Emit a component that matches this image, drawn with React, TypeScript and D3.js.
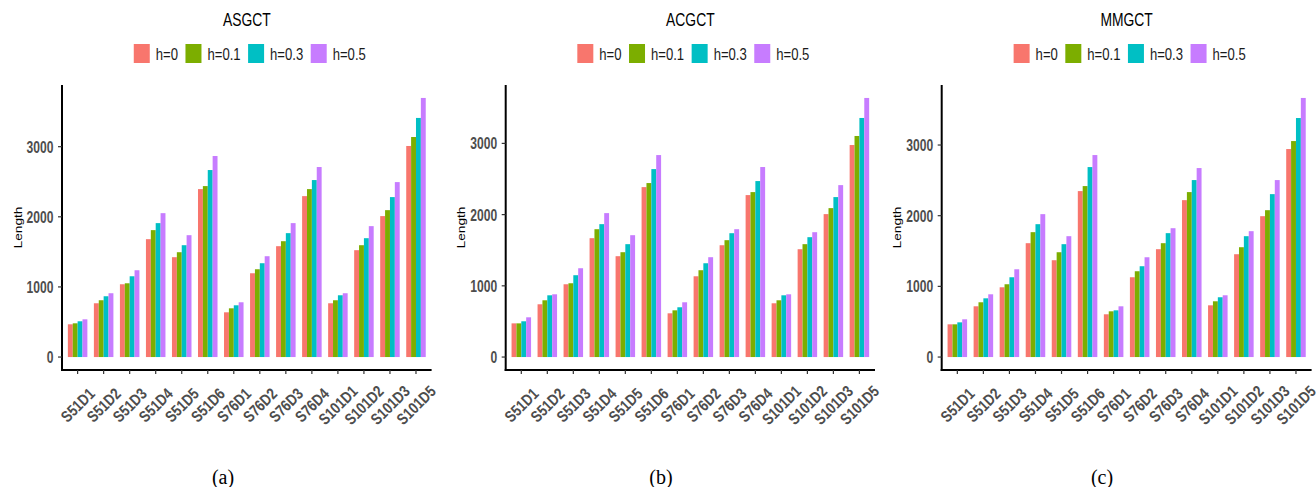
import React from "react";
import * as d3 from "d3";

const width = 1316;
const height = 487;
const SQ = 0.77; // the figure is squeezed horizontally
const FONT = "Liberation Sans, Arial, Helvetica, sans-serif";

const categories = [
  "S51D1", "S51D2", "S51D3", "S51D4", "S51D5", "S51D6",
  "S76D1", "S76D2", "S76D3", "S76D4",
  "S101D1", "S101D2", "S101D3", "S101D5",
];
const seriesNames = ["h=0", "h=0.1", "h=0.3", "h=0.5"];
const colors = ["#F8766D", "#7CAE00", "#00BFC4", "#C77CFF"];
const yTicks = [0, 1000, 2000, 3000];

const asgctH0 = [467, 767, 1038, 1681, 1424, 2395, 638, 1195, 1581, 2295, 767, 1524, 2010, 3010];
const asgctH01 = [481, 810, 1052, 1810, 1495, 2438, 695, 1252, 1652, 2395, 810, 1595, 2095, 3138];
const asgctH03 = [510, 867, 1152, 1910, 1595, 2667, 738, 1338, 1767, 2524, 881, 1695, 2281, 3410];
const asgctH05 = [538, 910, 1238, 2052, 1738, 2867, 781, 1438, 1910, 2710, 910, 1867, 2495, 3695];

const acgctH0 = [473, 741, 1022, 1669, 1416, 2386, 614, 1134, 1570, 2274, 755, 1514, 2007, 2977];
const acgctH01 = [473, 797, 1036, 1795, 1472, 2443, 656, 1219, 1641, 2316, 797, 1585, 2091, 3104];
const acgctH03 = [502, 867, 1149, 1866, 1585, 2639, 699, 1317, 1739, 2471, 867, 1683, 2246, 3357];
const acgctH05 = [558, 881, 1247, 2021, 1711, 2836, 769, 1402, 1795, 2668, 881, 1753, 2414, 3638];

const mmgctH0 = [463, 718, 987, 1611, 1370, 2348, 605, 1129, 1526, 2220, 732, 1455, 1993, 2943];
const mmgctH01 = [463, 775, 1030, 1767, 1483, 2419, 647, 1214, 1611, 2334, 789, 1554, 2078, 3056];
const mmgctH03 = [491, 831, 1129, 1880, 1597, 2688, 661, 1285, 1753, 2504, 846, 1710, 2305, 3382];
const mmgctH05 = [534, 888, 1242, 2022, 1710, 2858, 718, 1412, 1823, 2674, 874, 1781, 2504, 3666];

const panels = [
  { title: "ASGCT", caption: "(a)", series: [asgctH0, asgctH01, asgctH03, asgctH05], left: 62, right: 431.6, capX: 223 },
  { title: "ACGCT", caption: "(b)", series: [acgctH0, acgctH01, acgctH03, acgctH05], left: 505.7, right: 875, capX: 661 },
  { title: "MMGCT", caption: "(c)", series: [mmgctH0, mmgctH01, mmgctH03, mmgctH05], left: 941.7, right: 1311.6, capX: 1102 },
];

const plotTop = 85;
const plotBottom = 370;

let ctx: CanvasRenderingContext2D | null = null;
function textW(s: string, font: string) {
  if (!ctx) ctx = document.createElement("canvas").getContext("2d");
  if (!ctx) return s.length * 8;
  ctx.font = font;
  return ctx.measureText(s).width;
}

const sq = (x: number, y: number, rot = 0, s = SQ) =>
  `translate(${x},${y}) scale(${s},1)` + (rot ? ` rotate(${rot})` : "");

function Panel({ p }: { p: (typeof panels)[number] }) {
  const maxV = d3.max(p.series.flat()) as number;
  const y = d3
    .scaleLinear()
    .domain([-0.05 * maxV, 1.05 * maxV])
    .range([plotBottom, plotTop]);
  const x = d3.scalePoint<string>().domain(categories).range([p.left, p.right]).padding(0.6);
  const inner = d3
    .scaleBand<number>()
    .domain(d3.range(seriesNames.length))
    .range([-x.step() * 0.375, x.step() * 0.375]);

  const cx = (p.left + p.right) / 2;

  // legend layout
  const legFont = `17px ${FONT}`;
  const items = seriesNames.map((s) => ({ s, w: textW(s, legFont) * SQ }));
  const box = 16;
  const gapText = 6;
  const gapItem = 7.5;
  const total = d3.sum(items, (d) => box + gapText + d.w) + gapItem * (items.length - 1);
  let lx = cx + 3 - total / 2;
  const legend = items.map((d, i) => {
    const pos = lx;
    lx += box + gapText + d.w + gapItem;
    return { ...d, pos, i };
  });

  return (
    <g>
      <text transform={sq(cx, 26)} textAnchor="middle" fontSize={18} fontFamily={FONT} fill="#000">
        {p.title}
      </text>
      {legend.map((d) => (
        <g key={d.s}>
          <rect x={d.pos} y={44} width={box} height={19} fill={colors[d.i]} />
          <text transform={sq(d.pos + box + gapText, 60)} fontSize={17} fontFamily={FONT} fill="#1a1a1a">
            {d.s}
          </text>
        </g>
      ))}

      {p.series.map((vals, si) =>
        vals.map((v, ci) => (
          <rect
            key={`${si}-${ci}`}
            x={(x(categories[ci]) as number) + (inner(si) as number)}
            y={y(v)}
            width={inner.bandwidth()}
            height={y(0) - y(v)}
            fill={colors[si]}
          />
        ))
      )}

      {/* axes */}
      <line x1={p.left} x2={p.left} y1={plotTop} y2={plotBottom + 1} stroke="#000" strokeWidth={2} />
      <line x1={p.left - 1} x2={p.right} y1={plotBottom} y2={plotBottom} stroke="#000" strokeWidth={2} />
      {yTicks.map((t) => (
        <g key={t}>
          <line x1={p.left - 4} x2={p.left} y1={y(t)} y2={y(t)} stroke="#333" strokeWidth={1.2} />
          <text
            transform={sq(p.left - 8.5, y(t) + 6, 0, 0.72)}
            textAnchor="end"
            fontSize={16.8}
            fontWeight="bold"
            fontFamily={FONT}
            fill="#4D4D4D"
          >
            {t}
          </text>
        </g>
      ))}
      {categories.map((c) => {
        const tx = x(c) as number;
        return (
          <g key={c}>
            <line x1={tx} x2={tx} y1={plotBottom} y2={plotBottom + 4} stroke="#333" strokeWidth={1.2} />
            <text
              transform={`translate(${tx},${405}) rotate(-45) scale(0.82,1)`}
              textAnchor="middle"
              dy="0.36em"
              fontSize={16}
              fontWeight="bold"
              fontFamily={FONT}
              fill="#4D4D4D"
            >
              {c}
            </text>
          </g>
        );
      })}
      <text
        transform={`translate(${p.left - 44},${(plotTop + plotBottom) / 2}) scale(${SQ},1) rotate(-90)`}
        textAnchor="middle"
        dy="0.35em"
        fontSize={13.6}
        fontFamily={FONT}
        fill="#000"
      >
        Length
      </text>
      <text x={p.capX} y={484} textAnchor="middle" fontSize={20} fontFamily="Liberation Serif, Times New Roman, serif" fill="#000">
        {p.caption}
      </text>
    </g>
  );
}

export default function App() {
  return (
    <svg
      width={width}
      height={height}
      style={{ position: "absolute", left: 0, top: 0, background: "#fff" }}
    >
      <rect width={width} height={height} fill="#fff" />
      {panels.map((p) => (
        <Panel key={p.title} p={p} />
      ))}
    </svg>
  );
}
